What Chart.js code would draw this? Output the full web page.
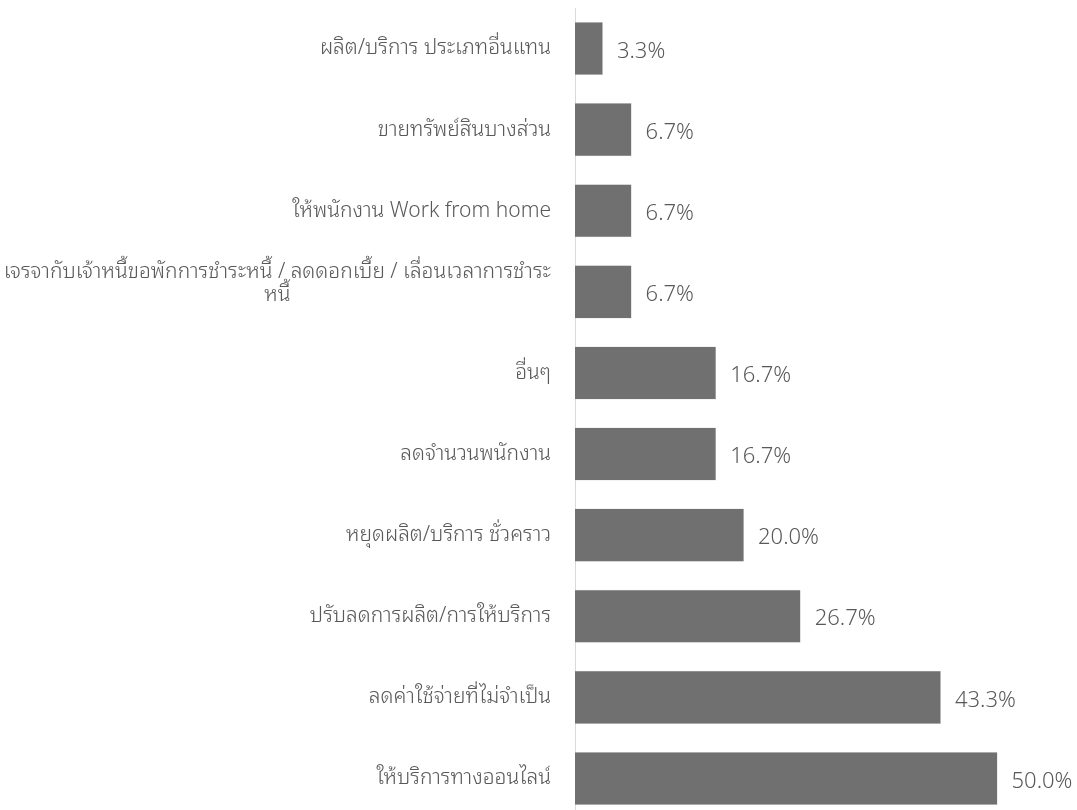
<!DOCTYPE html>
<html>
<head>
<meta charset="utf-8">
<script src="https://cdn.jsdelivr.net/npm/chart.js@4.4.0/dist/chart.umd.min.js"></script>
<style>
  html, body { margin: 0; padding: 0; background: #fff; overflow: hidden; }
  #wrap { width: 1077px; height: 820px; }
</style>
</head>
<body>
<div id="wrap"><canvas id="chart" width="1077" height="820"></canvas></div>
<script>
// หมวดหมู่ (บนลงล่าง)
const categories = [
  ['ผลิต/บริการ ประเภทอื่นแทน'],
  ['ขายทรัพย์สินบางส่วน'],
  ['ให้พนักงาน Work from home'],
  ['เจรจากับเจ้าหนี้ขอพักการชำระหนี้ / ลดดอกเบี้ย / เลื่อนเวลาการชำระ', 'หนี้'],
  ['อื่นๆ'],
  ['ลดจำนวนพนักงาน'],
  ['หยุดผลิต/บริการ ชั่วคราว'],
  ['ปรับลดการผลิต/การให้บริการ'],
  ['ลดค่าใช้จ่ายที่ไม่จำเป็น'],
  ['ให้บริการทางออนไลน์']
];
const values = [3.3, 6.7, 6.7, 6.7, 16.7, 16.7, 20.0, 26.7, 43.3, 50.0];
const valueLabels = ['3.3%', '6.7%', '6.7%', '6.7%', '16.7%', '16.7%', '20.0%', '26.7%', '43.3%', '50.0%'];

const FONT = "'Noto Sans Thai Looped', 'Noto Sans Thai', 'Open Sans', 'Noto Sans', sans-serif";

// ป้ายชื่อแกน y แบบ Excel (ชิดขวา, หลายบรรทัดจัดกลาง)
const catLabelPlugin = {
  id: 'catLabels',
  afterDraw(chart) {
    const { ctx, scales: { y } } = chart;
    ctx.save();
    ctx.font = '300 21px ' + FONT;
    ctx.fillStyle = '#595959';
    ctx.textBaseline = 'middle';
    ctx.textAlign = 'center';
    const right = 551, lh = 23;
    categories.forEach((lines, i) => {
      const yc = y.getPixelForValue(i);
      const w = Math.max(...lines.map(l => ctx.measureText(l).width));
      const cx = right - w / 2;
      lines.forEach((l, j) => {
        const off = lines.length > 1 ? (j * lh - (lines.length - 1) * lh * 0.85) : 0;
        ctx.fillText(l, cx, yc + off);
      });
    });
    ctx.restore();
  }
};

// ป้ายค่าที่ปลายแท่ง
const valueLabelPlugin = {
  id: 'valueLabels',
  afterDatasetsDraw(chart) {
    const { ctx } = chart;
    const meta = chart.getDatasetMeta(0);
    ctx.save();
    ctx.font = '300 22px ' + FONT;
    ctx.fillStyle = '#595959';
    ctx.textBaseline = 'middle';
    ctx.textAlign = 'left';
    meta.data.forEach((bar, i) => {
      ctx.fillText(valueLabels[i], bar.x + 14, bar.y + 3);
    });
    ctx.restore();
  }
};

new Chart(document.getElementById('chart').getContext('2d'), {
  type: 'bar',
  data: {
    labels: categories,
    datasets: [{
      data: values,
      backgroundColor: '#707070',
      borderColor: '#d0d0d0',
      borderWidth: 0.5,
      categoryPercentage: 1,
      barPercentage: 0.655
    }]
  },
  options: {
    indexAxis: 'y',
    responsive: false,
    animation: false,
    devicePixelRatio: 1,
    layout: { padding: { left: 567, right: 0, top: 8, bottom: 1 } },
    plugins: { legend: { display: false }, tooltip: { enabled: false } },
    scales: {
      x: { display: false, min: 0, max: 59.4 },
      y: {
        grid: { display: false },
        border: { display: true, color: '#d9d9d9', width: 1 },
        ticks: { display: false }
      }
    }
  },
  plugins: [catLabelPlugin, valueLabelPlugin]
});
</script>
</body>
</html>
